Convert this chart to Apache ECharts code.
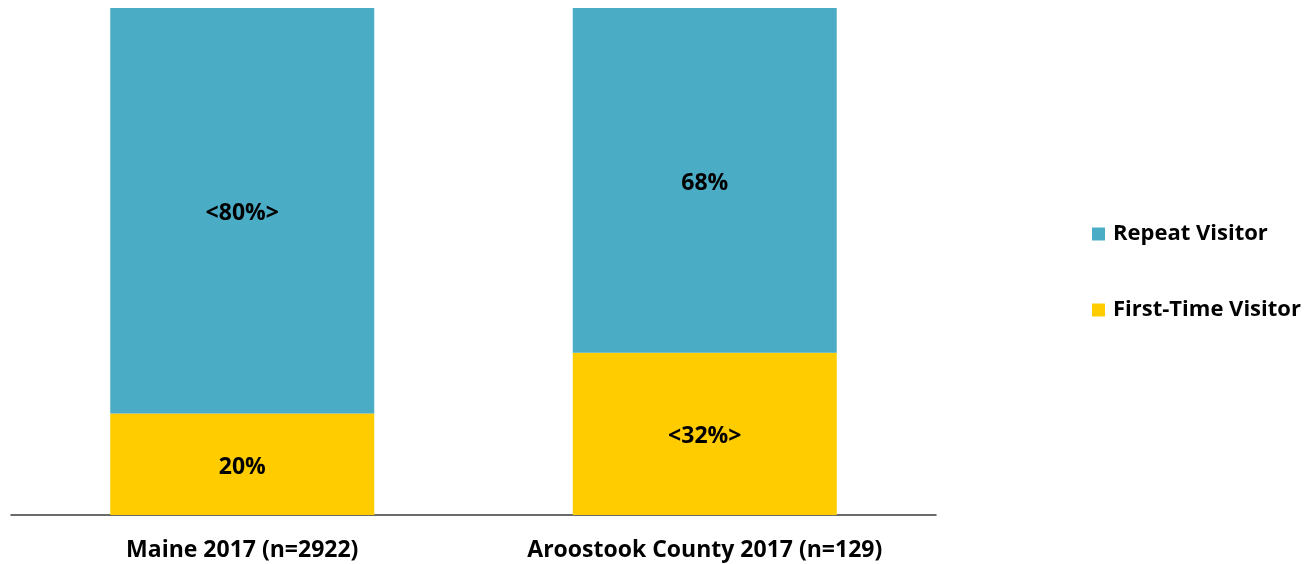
<!DOCTYPE html>
<html>
<head>
<meta charset="utf-8">
<script src="https://cdn.jsdelivr.net/npm/echarts@6/dist/echarts.min.js"></script>
<style>
  html, body { margin: 0; padding: 0; background: #fff; }
  #chart { width: 1305px; height: 564px; }
</style>
</head>
<body>
<div id="chart"></div>
<script>
// Visitor type shares, 2017
const categories = ['Maine 2017 (n=2922)', 'Aroostook County 2017 (n=129)'];
const firstTime = [20, 32];
const repeat = [80, 68];
// Values flagged with angle brackets in their labels
const firstTimeFlag = [false, true];
const repeatFlag = [true, false];

const FONT = '"Open Sans", Lato, sans-serif';

function labelFor(flags) {
  return function (p) {
    const txt = p.value + '%';
    return flags[p.dataIndex] ? '<' + txt + '>' : txt;
  };
}

const barLabel = (flags) => ({
  show: true,
  position: 'inside',
  offset: [0, 3],
  formatter: labelFor(flags),
  fontFamily: FONT,
  fontSize: 23,
  fontWeight: 'bold',
  color: '#000'
});

const chart = echarts.init(document.getElementById('chart'));
chart.setOption({
  animation: false,
  textStyle: { fontFamily: FONT },
  grid: { left: 11, right: 369, top: 8, bottom: 49 },
  legend: {
    orient: 'vertical',
    left: 1087,
    top: 218,
    itemWidth: 13,
    itemHeight: 13,
    itemGap: 54,
    icon: 'rect',
    data: ['Repeat Visitor', 'First-Time Visitor'],
    textStyle: { fontFamily: FONT, fontSize: 22, fontWeight: 'bold', color: '#000', padding: [0, 0, 0, 3] }
  },
  xAxis: {
    type: 'category',
    data: categories,
    axisLine: { lineStyle: { color: '#3a3a3a', width: 1.5 } },
    axisTick: { show: false },
    axisLabel: { fontFamily: FONT, fontSize: 23, fontWeight: 'bold', color: '#000', margin: 24 }
  },
  yAxis: {
    type: 'value',
    min: 0,
    max: 100,
    show: false,
    splitLine: { show: false }
  },
  series: [
    {
      name: 'First-Time Visitor',
      type: 'bar',
      stack: 'total',
      barWidth: 264,
      data: firstTime,
      itemStyle: { color: '#FFCC00' },
      label: barLabel(firstTimeFlag)
    },
    {
      name: 'Repeat Visitor',
      type: 'bar',
      stack: 'total',
      barWidth: 264,
      data: repeat,
      itemStyle: { color: '#4BACC6' },
      label: barLabel(repeatFlag)
    }
  ]
});
</script>
</body>
</html>
